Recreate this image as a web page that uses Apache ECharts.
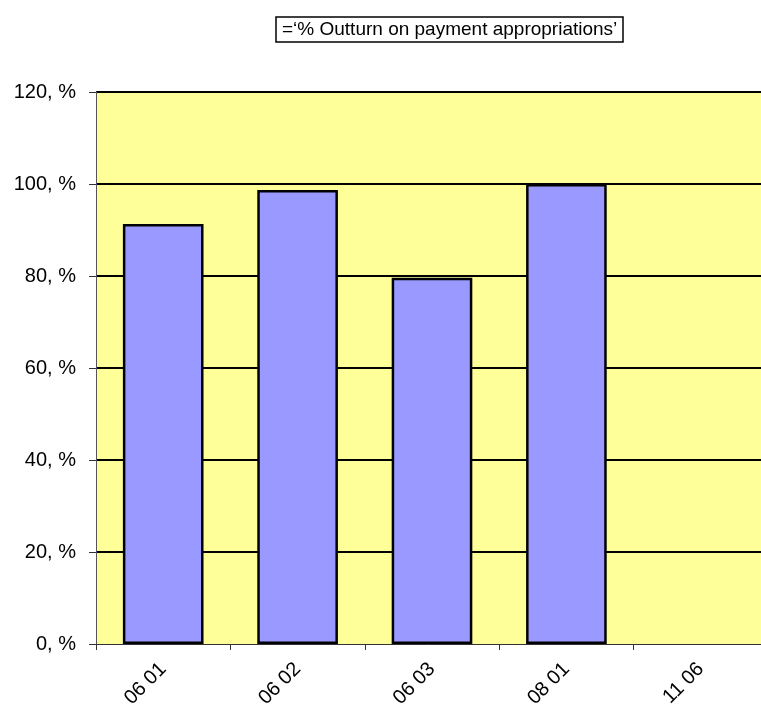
<!DOCTYPE html>
<html>
<head>
<meta charset="utf-8">
<script src="https://cdn.jsdelivr.net/npm/echarts@6/dist/echarts.min.js"></script>
<style>
  html, body { margin: 0; padding: 0; background: #fff; }
  #chart { width: 761px; height: 704px; }
</style>
</head>
<body>
<div id="chart"></div>
<script>
// categories and values
const categories = ['06 01', '06 02', '06 03', '08 01', '11 06'];
const outturn = [91.3, 98.7, 79.6, 100, 0];
const seriesName = '=\u2018% Outturn on payment appropriations\u2019';

const chart = echarts.init(document.getElementById('chart'));

// a zero bar is not drawn at all in the original, so no outline for it
const barData = outturn.map(v => v === 0 ? { value: v, itemStyle: { borderWidth: 0 } } : v);

chart.setOption({
    animation: false,
    textStyle: {
        fontFamily: 'Arial, "Liberation Sans", sans-serif'
    },
    title: {
        text: seriesName,
        left: 276,
        top: 17,
        padding: [3, 6, 3, 6],
        borderColor: '#000',
        borderWidth: 1.5,
        textStyle: {
            fontSize: 19,
            fontWeight: 'normal',
            color: '#000'
        }
    },
    grid: {
        left: 96,
        top: 92,
        width: 672,
        height: 552,
        outerBoundsMode: 'none',
        containLabel: false,
        show: true,
        backgroundColor: '#FFFF99',
        borderWidth: 0
    },
    xAxis: {
        type: 'category',
        data: categories,
        axisLine: {
            lineStyle: { color: '#333', width: 1 }
        },
        axisTick: {
            show: true,
            length: 6,
            lineStyle: { color: '#333' }
        },
        axisLabel: {
            rotate: 45,
            fontSize: 20,
            margin: 22,
            color: '#000'
        }
    },
    yAxis: {
        type: 'value',
        min: 0,
        max: 120,
        interval: 20,
        axisLine: {
            show: true,
            lineStyle: { color: '#555', width: 1 }
        },
        axisTick: {
            show: true,
            length: 7,
            lineStyle: { color: '#333' }
        },
        axisLabel: {
            formatter: '{value}, %',
            fontSize: 20,
            margin: 20,
            color: '#000'
        },
        splitLine: {
            show: true,
            showMinLine: false,
            lineStyle: { color: '#000', width: 2 }
        }
    },
    series: [{
        name: seriesName,
        type: 'bar',
        data: barData,
        barCategoryGap: '40%',
        itemStyle: {
            color: '#9999FF',
            borderColor: '#000',
            borderWidth: 2.5
        }
    }]
});
</script>
</body>
</html>
